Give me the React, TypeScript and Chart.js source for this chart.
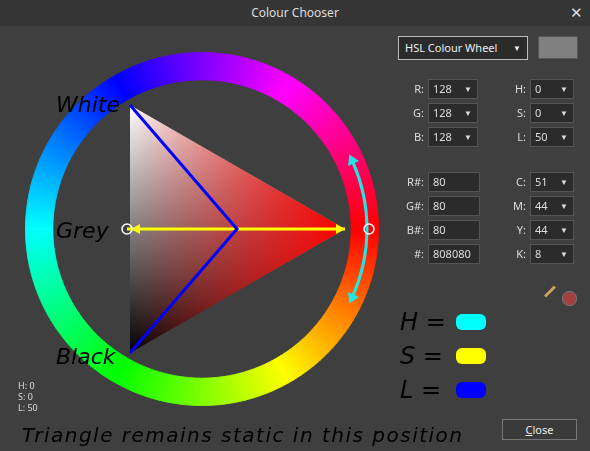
import React, { useEffect, useRef } from "react";
import { Chart, registerables } from "chart.js";
Chart.register(...registerables);

const hueSegments = Array.from({ length: 360 }, () => 1);
const triX = [130, 345, 130];
const triY = [105, 229, 353];
const blueX = [130, 237, 130];
const blueY = [105, 229, 353];
const yellowX = [127, 345];
const yellowY = [229, 229];
const rgbRows = [["R:", "128", "H:", "0"], ["G:", "128", "S:", "0"], ["B:", "128", "L:", "50"]];
const hexRows = [["R#:", "80", "C:", "51"], ["G#:", "80", "M:", "44"], ["B#:", "80", "Y:", "44"], ["#:", "808080", "K:", "8"]];

const hand = "'DejaVu Sans', sans-serif";

export default function App() {
  const wheelRef = useRef<HTMLCanvasElement>(null);
  const overRef = useRef<HTMLCanvasElement>(null);
  useEffect(() => {
    document.body.style.margin = "0";
    const wheel = new Chart(wheelRef.current!, {
      type: "doughnut",
      data: { labels: hueSegments.map((_, i) => String(i)), datasets: [{ data: hueSegments, backgroundColor: hueSegments.map((_, i) => `hsl(${i},100%,50%)`), borderWidth: 1, borderColor: hueSegments.map((_, i) => `hsl(${i},100%,50%)`) }] },
      options: { animation: false, responsive: false, rotation: 90, cutout: "84.5%", plugins: { legend: { display: false }, tooltip: { enabled: false } }, layout: { padding: 0 } },
    });
    const triPlugin = {
      id: "tri",
      beforeDatasetsDraw(c: any) {
        const x = c.scales.x, y = c.scales.y, ctx = c.ctx;
        const px = triX.map((v) => x.getPixelForValue(v));
        const py = triY.map((v) => y.getPixelForValue(v));
        const path = () => { ctx.beginPath(); ctx.moveTo(px[0], py[0]); ctx.lineTo(px[1], py[1]); ctx.lineTo(px[2], py[2]); ctx.closePath(); };
        ctx.save();
        let g = ctx.createLinearGradient(0, py[0], 0, py[2]);
        g.addColorStop(0, "#fff"); g.addColorStop(0.5, "#808080"); g.addColorStop(1, "#000");
        path(); ctx.fillStyle = g; ctx.fill();
        g = ctx.createLinearGradient(px[0], 0, px[1], 0);
        g.addColorStop(0, "rgba(255,0,0,0)"); g.addColorStop(1, "rgba(255,0,0,1)");
        path(); ctx.fillStyle = g; ctx.fill();
        const cx = x.getPixelForValue(202), cy = y.getPixelForValue(229), r = 165;
        ctx.strokeStyle = "#22e5e5"; ctx.lineWidth = 3;
        ctx.beginPath(); ctx.arc(cx, cy, r, -0.42, 0.42); ctx.stroke();
        ctx.fillStyle = "#22e5e5";
        const head = (a: number, dir: number) => {
          const hx = cx + r * Math.cos(a), hy = cy + r * Math.sin(a);
          const tx = -Math.sin(a) * dir, ty = Math.cos(a) * dir;
          ctx.beginPath(); ctx.moveTo(hx + tx * 8, hy + ty * 8);
          ctx.lineTo(hx + Math.cos(a) * 6 - tx * 2, hy + Math.sin(a) * 6 - ty * 2);
          ctx.lineTo(hx - Math.cos(a) * 6 - tx * 2, hy - Math.sin(a) * 6 - ty * 2);
          ctx.fill();
        };
        head(-0.42, -1); head(0.42, 1);
        ctx.restore();
      },
      afterDatasetsDraw(c: any) {
        const x = c.scales.x, y = c.scales.y, ctx = c.ctx;
        ctx.save();
        ctx.fillStyle = "#ffff00";
        const ay = y.getPixelForValue(229);
        const l = x.getPixelForValue(yellowX[0]) + 4, rr = x.getPixelForValue(yellowX[1]);
        ctx.beginPath(); ctx.moveTo(l, ay); ctx.lineTo(l + 9, ay - 5); ctx.lineTo(l + 9, ay + 5); ctx.fill();
        ctx.beginPath(); ctx.moveTo(rr, ay); ctx.lineTo(rr - 9, ay - 5); ctx.lineTo(rr - 9, ay + 5); ctx.fill();
        ctx.strokeStyle = "#fff"; ctx.lineWidth = 1.5;
        [127, 369].forEach((v) => { ctx.beginPath(); ctx.arc(x.getPixelForValue(v), ay, 5, 0, 7); ctx.stroke(); });
        ctx.restore();
      },
    };
    const over = new Chart(overRef.current!, {
      type: "scatter",
      data: { datasets: [
        { data: blueX.map((v, i) => ({ x: v, y: blueY[i] })), showLine: true, borderColor: "#0000ff", borderWidth: 3, pointRadius: 0 },
        { data: yellowX.map((v, i) => ({ x: v, y: yellowY[i] })), showLine: true, borderColor: "#ffff00", borderWidth: 3, pointRadius: 0 },
      ] },
      options: { animation: false, responsive: false, layout: { padding: 0 },
        scales: { x: { type: "linear", min: 0, max: 590, display: false }, y: { type: "linear", min: 0, max: 451, reverse: true, display: false } },
        plugins: { legend: { display: false }, tooltip: { enabled: false } } },
      plugins: [triPlugin],
    });
    return () => { wheel.destroy(); over.destroy(); };
  }, []);

  const abs = (l: number, t: number, extra: any = {}) => ({ position: "absolute" as const, left: l, top: t, ...extra });
  const box = (l: number, t: number, w: number, v: string, arrow: boolean) => (
    <div style={abs(l, t, { width: w, height: 20, background: "#2b2b2b", border: "1px solid #555", boxSizing: "border-box", color: "#ddd", fontSize: 11, lineHeight: "18px", paddingLeft: 4 })}>
      {v}{arrow && <span style={{ position: "absolute", right: 5, fontSize: 8 }}>▼</span>}
    </div>
  );
  const label = (r: number, t: number, s: string) => (
    <div style={abs(0, t, { width: r, textAlign: "right", color: "#ddd", fontSize: 11, lineHeight: "20px" })}>{s}</div>
  );
  return (
    <div style={{ position: "relative", width: 590, height: 451, background: "#3f3f3f", fontFamily: "'Segoe UI', 'Noto Sans', sans-serif", overflow: "hidden" }}>
      <div style={abs(0, 0, { width: 590, height: 26, background: "#353535", color: "#ddd", fontSize: 12, textAlign: "center", lineHeight: "26px" })}>Colour Chooser</div>
      <div style={abs(570, 2, { color: "#ddd", fontSize: 15 })}>✕</div>
      <canvas ref={wheelRef} width={354} height={354} style={abs(25, 52)} />
      <canvas ref={overRef} width={590} height={451} style={abs(0, 0)} />
      <div style={abs(56, 92, { fontFamily: hand, fontSize: 22, fontStyle: "italic", color: "#000" })}>White</div>
      <div style={abs(56, 218, { fontFamily: hand, fontSize: 22, fontStyle: "italic", color: "#000" })}>Grey</div>
      <div style={abs(56, 344, { fontFamily: hand, fontSize: 22, fontStyle: "italic", color: "#000" })}>Black</div>
      <div style={abs(18, 380, { color: "#ddd", fontSize: 9, lineHeight: "11px" })}>H: 0<br />S: 0<br />L: 50</div>
      <div style={abs(22, 423, { fontFamily: hand, fontStyle: "italic", fontSize: 20, color: "#000", letterSpacing: 1.5 })}>Triangle remains static in this position</div>
      <div style={abs(398, 36, { width: 130, height: 24, background: "#2b2b2b", border: "1px solid #bbb", boxSizing: "border-box", color: "#eee", fontSize: 11, lineHeight: "22px", paddingLeft: 6 })}>HSL Colour Wheel<span style={{ position: "absolute", right: 6, fontSize: 8 }}>▼</span></div>
      <div style={abs(538, 36, { width: 40, height: 23, background: "#808080", border: "1px solid #555", boxSizing: "border-box" })} />
      {rgbRows.map((r, i) => (
        <React.Fragment key={i}>
          {label(424, 79 + i * 24, r[0])}{box(428, 79 + i * 24, 50, r[1], true)}
          {label(526, 79 + i * 24, r[2])}{box(530, 79 + i * 24, 44, r[3], true)}
        </React.Fragment>
      ))}
      {hexRows.map((r, i) => (
        <React.Fragment key={i}>
          {label(424, 172 + i * 24, r[0])}{box(428, 172 + i * 24, 52, r[1], false)}
          {label(526, 172 + i * 24, r[2])}{box(530, 172 + i * 24, 44, r[3], true)}
        </React.Fragment>
      ))}
      <div style={abs(543, 290, { width: 14, height: 3, background: "#c8a060", transform: "rotate(-45deg)" })} />
      <div style={abs(562, 291, { width: 13, height: 13, borderRadius: 7, background: "#a04040", border: "1px solid #777" })} />
      {[["H", "#00ffff", 308], ["S", "#ffff00", 342], ["L", "#0000ff", 376]].map(([t, c, y]: any) => (
        <React.Fragment key={t}>
          <div style={abs(400, y, { fontFamily: hand, fontStyle: "italic", fontSize: 24, color: "#000" })}>{t} =</div>
          <div style={abs(456, y + 6, { width: 30, height: 16, background: c, borderRadius: 6 })} />
        </React.Fragment>
      ))}
      <div style={abs(502, 419, { width: 75, height: 21, border: "1px solid #777", boxSizing: "border-box", background: "#3a3a3a", color: "#eee", fontSize: 11, textAlign: "center", lineHeight: "19px" })}><u>C</u>lose</div>
    </div>
  );
}
